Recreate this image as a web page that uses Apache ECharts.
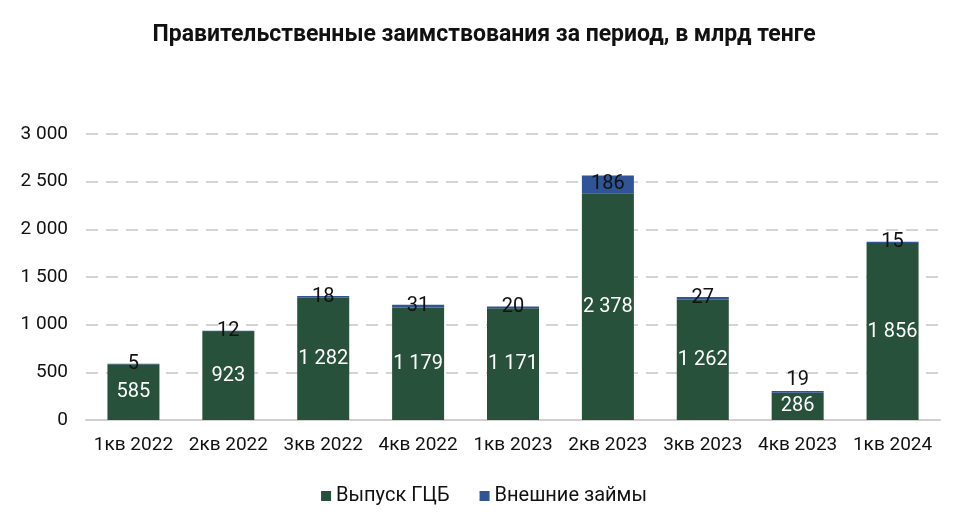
<!DOCTYPE html>
<html>
<head>
<meta charset="utf-8">
<script src="https://cdn.jsdelivr.net/npm/echarts@6/dist/echarts.min.js"></script>
<style>
  html, body { margin: 0; padding: 0; background: #fff; }
  #chart { width: 968px; height: 530px; }
</style>
</head>
<body>
<div id="chart"></div>
<script>
const categories = ["1кв 2022", "2кв 2022", "3кв 2022", "4кв 2022", "1кв 2023", "2кв 2023", "3кв 2023", "4кв 2023", "1кв 2024"];
const gcbIssue = [585, 923, 1282, 1179, 1171, 2378, 1262, 286, 1856];
const externalLoans = [5, 12, 18, 31, 20, 186, 27, 19, 15];
const yTicks = [0, 500, 1000, 1500, 2000, 2500, 3000];

const FONT = "Roboto";
const fmt = (v) => String(v).replace(/\B(?=(\d{3})+(?!\d))/g, " ");

const chart = echarts.init(document.getElementById("chart"));

chart.setOption({
  animation: false,
  textStyle: { fontFamily: FONT },
  title: {
    text: "Правительственные заимствования за период, в млрд тенге",
    left: "center",
    top: 19,
    textStyle: { fontFamily: FONT, fontWeight: "bold", fontSize: 23, color: "#111" },
  },
  grid: { left: 86, right: 28, top: 134, bottom: 110 },
  legend: {
    bottom: 19,
    left: "center",
    itemWidth: 10,
    itemHeight: 10,
    itemGap: 30,
    icon: "rect",
    textStyle: { fontFamily: FONT, fontSize: 20, color: "#111" },
    data: ["Выпуск ГЦБ", "Внешние займы"],
  },
  xAxis: {
    type: "category",
    data: categories,
    axisLine: { lineStyle: { color: "#d0d0d0", width: 2 } },
    axisTick: { show: false },
    axisLabel: { interval: 0, color: "#111", fontSize: 19, margin: 16, fontFamily: FONT },
  },
  yAxis: {
    type: "value",
    min: yTicks[0],
    max: yTicks[yTicks.length - 1],
    interval: 500,
    axisLine: { show: false },
    axisTick: { show: false },
    axisLabel: { color: "#111", fontSize: 19, margin: 18, fontFamily: FONT, formatter: fmt },
    splitLine: { lineStyle: { color: "#d4d4d4", width: 2, type: [12, 8] } },
  },
  series: [
    {
      name: "Выпуск ГЦБ",
      type: "bar",
      stack: "total",
      barWidth: 52,
      itemStyle: { color: "#27513a" },
      label: {
        show: true,
        position: "inside",
        color: "#fff",
        fontSize: 20,
        fontFamily: FONT,
        formatter: (p) => fmt(p.value),
      },
      data: gcbIssue,
    },
    {
      name: "Внешние займы",
      type: "bar",
      stack: "total",
      barWidth: 52,
      itemStyle: { color: "#2f5597" },
      label: {
        show: true,
        position: "inside",
        color: "#111",
        fontSize: 20,
        fontFamily: FONT,
        formatter: (p) => fmt(p.value),
      },
      data: externalLoans.map((v, i) =>
        i === 7 ? { value: v, label: { offset: [0, -12] } } : v
      ),
    },
  ],
});
</script>
</body>
</html>
